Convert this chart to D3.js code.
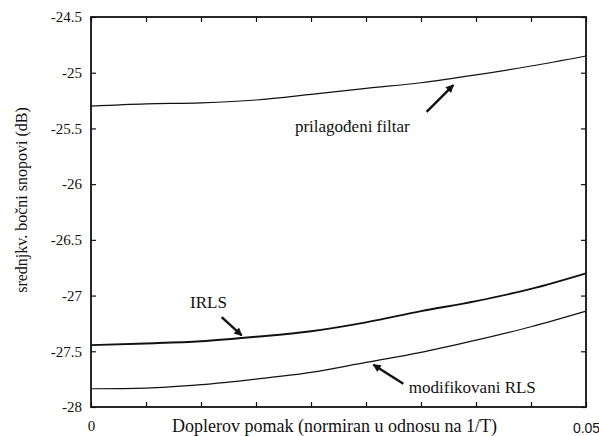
<!DOCTYPE html>
<html>
<head>
<meta charset="utf-8">
<script src="https://cdn.jsdelivr.net/npm/d3@7"></script>
<style>
body { margin: 0; background: #fff; }
</style>
</head>
<body>
<script>
// doppler shift, 10 points across the axis
var doppler = [0, 0.05/9, 0.1/9, 0.15/9, 0.2/9, 0.25/9, 0.3/9, 0.35/9, 0.4/9, 0.05]
var matched = [-25.30, -25.28, -25.27, -25.245, -25.195, -25.14, -25.09, -25.02, -24.94, -24.85]
var irls = [-27.445, -27.43, -27.41, -27.37, -27.32, -27.24, -27.14, -27.05, -26.94, -26.80]
var modRls = [-27.836, -27.83, -27.80, -27.75, -27.69, -27.60, -27.51, -27.40, -27.28, -27.14]
var yTicks = [-24.5, -25, -25.5, -26, -26.5, -27, -27.5, -28]
var xTicks = doppler
var xTickLabels = {0: '0', 9: '0.05'}

var series = [
	{ values: matched, width: 1.2 },
	{ values: irls, width: 1.9 },
	{ values: modRls, width: 1.2 }
]

var notes = [
	{ text: 'prilagođeni filtar', tx: 0.0206, ty: -25.535, from: [0.0339, -25.351], to: [0.0366, -25.111] },
	{ text: 'IRLS', tx: 0.0100, ty: -27.115, from: [0.0132, -27.193], to: [0.01522, -27.357] },
	{ text: 'modifikovani RLS', tx: 0.0321, ty: -27.87, from: [0.03155, -27.791], to: [0.02852, -27.620] }
]

var SERIF = '"Liberation Serif", "Times New Roman", Times, "DejaVu Serif", "Noto Serif", serif'
var SANS = '"Liberation Sans", Arial, Helvetica, sans-serif'

var W = 599, H = 436
var margin = { top: 17, right: 13, bottom: 29, left: 91 }
var w = W - margin.left - margin.right,
	h = H - margin.top - margin.bottom

var svg = d3.select('body').append('svg')
	.attr('width', W)
	.attr('height', H)
	.attr('font-family', SERIF)

svg.append('defs').append('marker')
	.attr('id', 'head')
	.attr('viewBox', '0 -5 10 10')
	.attr('refX', 9)
	.attr('refY', 0)
	.attr('markerWidth', 10)
	.attr('markerHeight', 8)
	.attr('markerUnits', 'userSpaceOnUse')
	.attr('orient', 'auto')
	.append('path')
	.attr('d', 'M0,-5L10,0L0,5Z')
	.attr('fill', '#111')

var g = svg.append('g').attr('transform', 'translate(' + margin.left + ',' + margin.top + ')')

var x = d3.scaleLinear().domain([0, 0.05]).range([0, w])
var y = d3.scaleLinear().domain([-28, -24.5]).range([h, 0])

function styleAxis(sel){
	sel.attr('font-family', SERIF)
	sel.select('.domain').remove()
	sel.selectAll('line').attr('stroke', '#111').attr('stroke-width', 1.2)
	sel.selectAll('text').attr('font-size', 15).attr('fill', '#111').attr('font-family', SERIF)
}

// ticks point inwards on all four sides
g.append('g').attr('transform', 'translate(0,' + h + ')')
	.call(d3.axisBottom(x).tickValues(xTicks).tickSizeInner(-5).tickSizeOuter(0).tickPadding(13)
		.tickFormat(function(d, i){ return xTickLabels[i] || '' }))
	.call(styleAxis)
	.selectAll('text').filter(function(d, i){ return i === 9 })
	.attr('font-family', SANS)
	.attr('font-size', 14)
	.attr('dy', '0.95em')

g.append('g')
	.call(d3.axisTop(x).tickValues(xTicks).tickSizeInner(-5).tickSizeOuter(0).tickFormat(''))
	.call(styleAxis)

g.append('g')
	.call(d3.axisLeft(y).tickValues(yTicks).tickSizeInner(-5).tickSizeOuter(0).tickPadding(9)
		.tickFormat(function(d){ return String(d) }))
	.call(styleAxis)

g.append('g').attr('transform', 'translate(' + w + ',0)')
	.call(d3.axisRight(y).tickValues(yTicks).tickSizeInner(-5).tickSizeOuter(0).tickFormat(''))
	.call(styleAxis)

g.append('rect')
	.attr('width', w)
	.attr('height', h)
	.attr('fill', 'none')
	.attr('stroke', '#111')
	.attr('stroke-width', 1.8)

var line = d3.line()
	.x(function(d, i){ return x(doppler[i]) })
	.y(function(d){ return y(d) })
	.curve(d3.curveMonotoneX)

g.selectAll('.curve').data(series).enter().append('path')
	.attr('class', 'curve')
	.attr('d', function(d){ return line(d.values) })
	.attr('fill', 'none')
	.attr('stroke', '#111')
	.attr('stroke-width', function(d){ return d.width })

var note = g.selectAll('.note').data(notes).enter().append('g').attr('class', 'note')
note.append('text')
	.attr('x', function(d){ return x(d.tx) })
	.attr('y', function(d){ return y(d.ty) })
	.attr('font-size', 17)
	.attr('font-family', SERIF)
	.attr('fill', '#111')
	.text(function(d){ return d.text })
note.append('line')
	.attr('x1', function(d){ return x(d.from[0]) })
	.attr('y1', function(d){ return y(d.from[1]) })
	.attr('x2', function(d){ return x(d.to[0]) })
	.attr('y2', function(d){ return y(d.to[1]) })
	.attr('stroke', '#111')
	.attr('stroke-width', 2.4)
	.attr('marker-end', 'url(#head)')

svg.append('text')
	.attr('x', margin.left + w / 2 - 4)
	.attr('y', 432)
	.attr('text-anchor', 'middle')
	.attr('font-size', 18)
	.attr('font-family', SERIF)
	.attr('fill', '#111')
	.text('Doplerov pomak (normiran u odnosu na 1/T)')

svg.append('text')
	.attr('transform', 'translate(27,200) rotate(-90)')
	.attr('text-anchor', 'middle')
	.attr('font-size', 16)
	.attr('font-family', SERIF)
	.attr('fill', '#111')
	.text('srednjkv. bočni snopovi (dB)')
</script>
</body>
</html>
